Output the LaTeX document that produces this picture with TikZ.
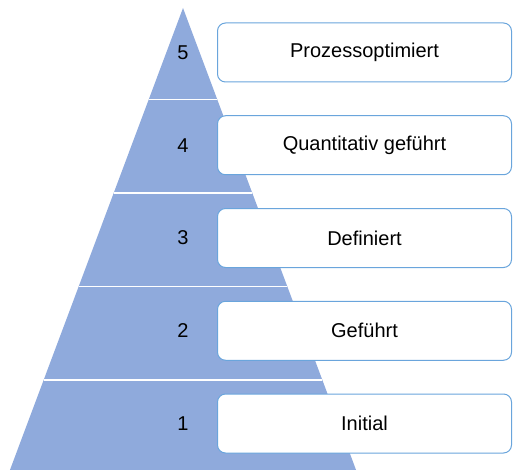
\documentclass[tikz,border=0pt]{standalone}
\usepackage{fontspec}
\setmainfont{Liberation Sans}
\definecolor{pyrfill}{HTML}{8FAADC}
\definecolor{boxline}{HTML}{6AA5DC}
\begin{document}
\begin{tikzpicture}[x=1pt,y=-1pt,
  levelsep/.style={draw=white, line width=1.6pt},
  labelbox/.style={draw=boxline, line width=1pt, fill=white, rounded corners=8pt,
    minimum width=294pt, minimum height=59pt, inner sep=0pt,
    font=\fontsize{20}{24}\selectfont},
  levelnum/.style={inner sep=0pt, font=\fontsize{20}{24}\selectfont}]
\useasboundingbox (0,0) rectangle (513,470);
% pyramid body
\begin{scope}
  \clip (0,0) rectangle (513,470);
  \fill[pyrfill] (183,8) -- (4.7,484) -- (361.3,484) -- cycle;
  % white lines between the levels
  \foreach \yy in {99.5,193,286.5,380} {
    \pgfmathsetmacro{\hw}{(\yy-8)*0.3745}
    \draw[levelsep] ({183-\hw},\yy) -- ({183+\hw},\yy);
  }
\end{scope}
% level numbers and names
\foreach \i/\name/\txt in {5/l5/Prozessoptimiert,4/l4/Quantitativ geführt,3/l3/Definiert,2/l2/Geführt,1/l1/Initial} {
  \pgfmathsetmacro{\yc}{52.5+92.75*(5-\i)}
  \node[levelnum] (n\name) at (183,\yc) {\i};
  \node[labelbox] (b\name) at (364.5,\yc) {\txt};
}
\end{tikzpicture}
\end{document}
